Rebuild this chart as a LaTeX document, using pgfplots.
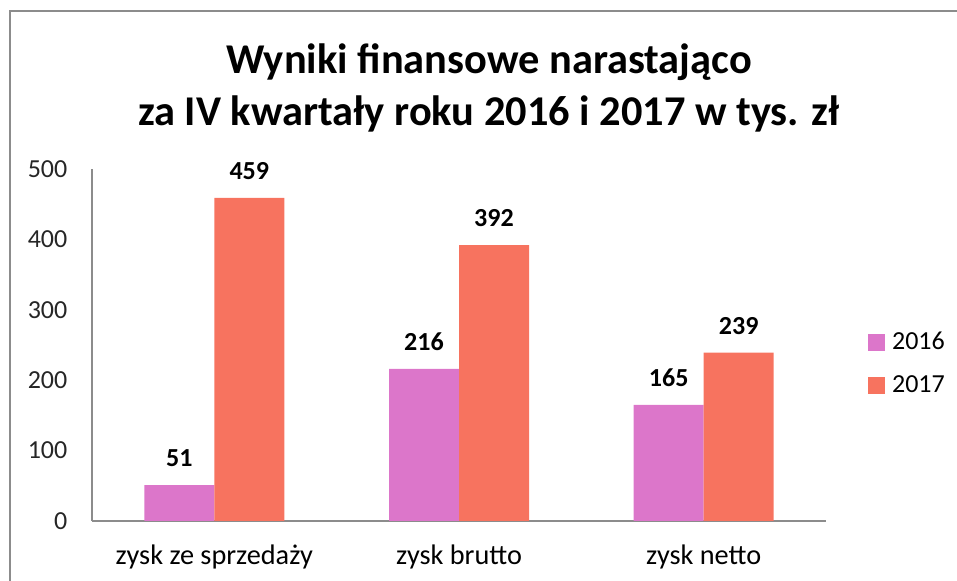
\documentclass[border=0pt]{standalone}
\usepackage{pgfplots}
\pgfplotsset{compat=1.18}
\usepackage{fontspec}
\setmainfont{Carlito}
\definecolor{c16}{HTML}{DC76CA}
\definecolor{c17}{HTML}{F7735F}
\definecolor{axgray}{HTML}{8C8C8C}
\begin{document}
\begin{tikzpicture}[x=0.75pt,y=0.75pt]
\draw[axgray,line width=1.5pt] (10,-5) -- (10,570) -- (962,570);
\node[font=\bfseries\fontsize{31.8}{38}\selectfont] at (489,519) {Wyniki finansowe narastająco};
\node[font=\bfseries\fontsize{31.8}{38}\selectfont] at (489,467) {za IV kwartały roku 2016 i 2017 w tys. zł};
\begin{axis}[
  at={(69pt,45pt)}, anchor=south west,
  scale only axis, width=550.5pt, height=264pt,
  ybar=0pt, bar width=52.5pt,
  xmin=-0.5, xmax=2.5, ymin=0, ymax=500,
  axis x line*=bottom, axis y line*=left,
  axis line style={axgray,line width=0.8pt,-},
  xtick=data, xticklabels={zysk ze sprzedaży,zysk brutto,zysk netto},
  ytick={0,100,...,500},
  major tick length=0pt,
  /pgf/number format/assume math mode=true,
  tick label style={font=\fontsize{19.5}{23}\selectfont, text=black!85},
  xticklabel style={font=\fontsize{21.2}{25}\selectfont, text=black, yshift=-14pt},
  yticklabel style={xshift=-15pt},
  nodes near coords,
  every node near coord/.append style={font=\bfseries\fontsize{19.5}{23}\selectfont, inner sep=0pt, anchor=south, yshift=13.5pt, text=black},
  legend style={at={(1.057,0.447)}, anchor=west, draw=none, fill=none,
    font=\fontsize{19.5}{23}\selectfont, row sep=14pt, inner sep=0pt,
    /tikz/every odd column/.append style={column sep=3pt}},
  legend image code/.code={\fill[#1] (0pt,-6.5pt) rectangle (13pt,6.5pt);},
  legend cell align=left,
]
\addplot[fill=c16, draw=none] coordinates {(0,51) (1,216) (2,165)};
\addplot[fill=c17, draw=none] coordinates {(0,459) (1,392) (2,239)};
\legend{2016,2017}
\end{axis}
\pgfresetboundingbox
\useasboundingbox (0,0) rectangle (957,581);
\end{tikzpicture}
\end{document}
